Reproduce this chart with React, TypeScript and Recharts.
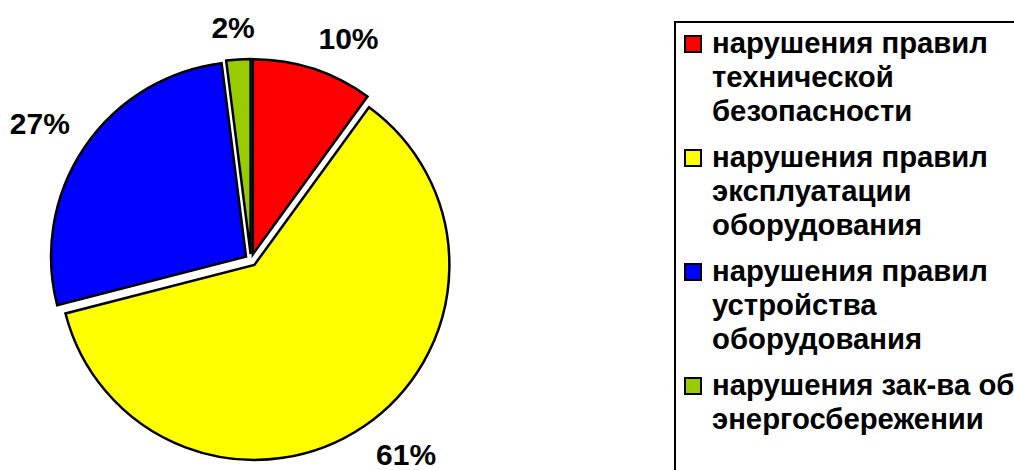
import React from 'react';
import { PieChart, Pie, Cell, Legend } from 'recharts';

const categories: string[] = [
  'нарушения правил технической безопасности',
  'нарушения правил эксплуатации оборудования',
  'нарушения правил устройства оборудования',
  'нарушения зак-ва об энергосбережении',
];
const values: number[] = [10, 61, 27, 2];
const colors: string[] = ['#FF0000', '#FFFF00', '#0000FF', '#99CC00'];
const percentLabels: string[] = ['10%', '61%', '27%', '2%'];
const legendLines: string[][] = [
  ['нарушения правил', 'технической', 'безопасности'],
  ['нарушения правил', 'эксплуатации', 'оборудования'],
  ['нарушения правил', 'устройства', 'оборудования'],
  ['нарушения зак-ва об', 'энергосбережении'],
];

const data = categories.map((name, i) => ({ name, value: values[i] }));

const FONT = '"Liberation Sans", Arial, Helvetica, sans-serif';
const CX = 251;
const CY = 260;
const R = 195;
const EXPLODE = 6;

const total = values.reduce((a, b) => a + b, 0);
const midAngles = values.map((v, i) => {
  const before = values.slice(0, i).reduce((a, b) => a + b, 0);
  return ((before + v / 2) / total) * 360; // clockwise from top
});

const makeLabel = (target: number) => (props: any) => {
  if (props.index !== target) return null;
  const { cx, cy, midAngle, outerRadius } = props;
  const rad = Math.PI / 180;
  const ux = Math.cos(-midAngle * rad);
  const uy = Math.sin(-midAngle * rad);
  const text = percentLabels[target];
  const w = (text.length - 1) * 16 + 28;
  const h = 27;
  const clamp = (v: number) => Math.max(-1, Math.min(1, v));
  const ax = cx + (outerRadius + 18) * ux;
  const ay = cy + (outerRadius + 18) * uy;
  const x = ax + (clamp(3 * ux) * w) / 2 + (ux > 0 ? 2 : 0);
  const y = ay + (clamp(3 * uy) * h) / 2;
  return (
    <text
      key={`lbl-${target}`}
      x={x}
      y={y}
      textAnchor="middle"
      dominantBaseline="central"
      fontFamily={FONT}
      fontWeight="bold"
      fontSize={30}
      fill="#000"
    >
      {text}
    </text>
  );
};

const renderLegend = () => (
  <div
    style={{
      position: 'relative',
      width: 440,
      height: 520,
      border: '2px solid #000',
      boxSizing: 'border-box',
      background: '#fff',
      fontFamily: FONT,
      fontWeight: 'bold',
      fontSize: 29.3,
      color: '#000',
      textAlign: 'left',
      paddingTop: 3,
    }}
  >
    {legendLines.map((lines, i) => (
      <div key={i} style={{ position: 'relative', marginBottom: 12, lineHeight: '34px' }}>
        <div
          style={{
            position: 'absolute',
            left: 8,
            top: 9,
            width: 18,
            height: 18,
            boxSizing: 'border-box',
            border: '2px solid #000',
            background: colors[i],
          }}
        />
        {lines.map((ln, j) => (
          <div key={j} style={{ paddingLeft: 36, whiteSpace: 'nowrap' }}>
            {ln}
          </div>
        ))}
      </div>
    ))}
  </div>
);

export default function App() {
  return (
    <div
      style={{
        position: 'absolute',
        left: 0,
        top: 0,
        width: 1014,
        height: 470,
        overflow: 'hidden',
        background: '#fff',
      }}
    >
      <PieChart width={1014} height={470} margin={{ top: 0, right: 0, bottom: 0, left: 0 }}>
        {values.map((_, target) => {
          const m = (midAngles[target] * Math.PI) / 180;
          return (
            <Pie
              key={target}
              data={data}
              dataKey="value"
              nameKey="name"
              cx={CX + EXPLODE * Math.sin(m)}
              cy={CY - EXPLODE * Math.cos(m)}
              outerRadius={R}
              startAngle={90}
              endAngle={-270}
              isAnimationActive={false}
              labelLine={false}
              label={makeLabel(target)}
              legendType="none"
            >
              {data.map((_, j) => (
                <Cell
                  key={j}
                  fill={j === target ? colors[j] : 'none'}
                  stroke={j === target ? '#000' : 'none'}
                  strokeWidth={2.5}
                />
              ))}
            </Pie>
          );
        })}
        <Legend
          content={renderLegend}
          wrapperStyle={{ position: 'absolute', left: 674, top: 21, width: 440, height: 520, margin: 0 }}
        />
      </PieChart>
    </div>
  );
}
